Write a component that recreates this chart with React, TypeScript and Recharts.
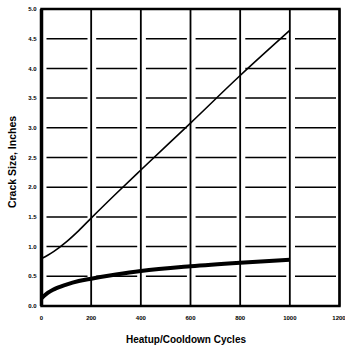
import React from "react";
import {
  LineChart,
  Line,
  XAxis,
  YAxis,
  CartesianGrid,
  ReferenceArea,
} from "recharts";

// cycles vs crack size (inches)
const cycles = [0, 25, 50, 100, 150, 200, 300, 400, 600, 800, 1000];
const upperCurve = [0.8, 0.855, 0.92, 1.08, 1.27, 1.48, 1.89, 2.29, 3.08, 3.88, 4.64];
const lowerCurve = [0.13, 0.22, 0.28, 0.36, 0.42, 0.46, 0.53, 0.59, 0.67, 0.73, 0.78];

const xTicks = [0, 200, 400, 600, 800, 1000, 1200];
const yTicks = [0, 0.5, 1, 1.5, 2, 2.5, 3, 3.5, 4, 4.5, 5];

const data = cycles.map((c, i) => ({
  cycles: c,
  upper: upperCurve[i],
  lower: lowerCurve[i],
}));

const font = "'Liberation Sans', Arial, sans-serif";

export default function App() {
  return (
    <div style={{ position: "absolute", left: 0, top: 0, background: "#fff" }}>
      <LineChart
        width={345}
        height={350}
        data={data}
        margin={{ top: 9, right: 5.5, bottom: 14, left: 0 }}
      >
        <CartesianGrid
          horizontal={true}
          vertical={false}
          stroke="#000"
          strokeWidth={1.5}
          strokeDasharray="0 5 41 3.7"
        />
        <CartesianGrid
          horizontal={false}
          vertical={true}
          stroke="#000"
          strokeWidth={1.8}
        />
        <XAxis
          dataKey="cycles"
          type="number"
          domain={[0, 1200]}
          ticks={xTicks}
          height={30}
          axisLine={false}
          tickLine={false}
          tickSize={0}
          tickMargin={10}
          tick={{ fontSize: 6, fontWeight: "bold", fill: "#000", fontFamily: font }}
          label={{
            content: () => (
              <text
                x={186}
                y={343}
                textAnchor="middle"
                fontSize={10}
                fontWeight="bold"
                fontFamily={font}
                fill="#000"
              >
                Heatup/Cooldown Cycles
              </text>
            ),
          }}
        />
        <YAxis
          type="number"
          domain={[0, 5]}
          ticks={yTicks}
          width={41.5}
          axisLine={{ stroke: "#000", strokeWidth: 3.5 }}
          tickLine={false}
          tickSize={0}
          tickMargin={5}
          tickFormatter={(v: number) => v.toFixed(1)}
          tick={{ fontSize: 6, fontWeight: "bold", fill: "#000", fontFamily: font }}
          label={{
            content: () => (
              <text
                transform="translate(16,162) rotate(-90)"
                textAnchor="middle"
                fontSize={10.5}
                fontWeight="bold"
                fontFamily={font}
                fill="#000"
              >
                Crack Size, Inches
              </text>
            ),
          }}
        />
        <ReferenceArea
          x1={0}
          x2={1200}
          y1={0}
          y2={5}
          fill="none"
          stroke="#000"
          strokeWidth={2.5}
          ifOverflow="visible"
        />
        <Line
          type="monotone"
          dataKey="upper"
          stroke="#000"
          strokeWidth={1.6}
          dot={false}
          isAnimationActive={false}
        />
        <Line
          type="monotone"
          dataKey="lower"
          stroke="#000"
          strokeWidth={4}
          dot={false}
          isAnimationActive={false}
        />
      </LineChart>
    </div>
  );
}
